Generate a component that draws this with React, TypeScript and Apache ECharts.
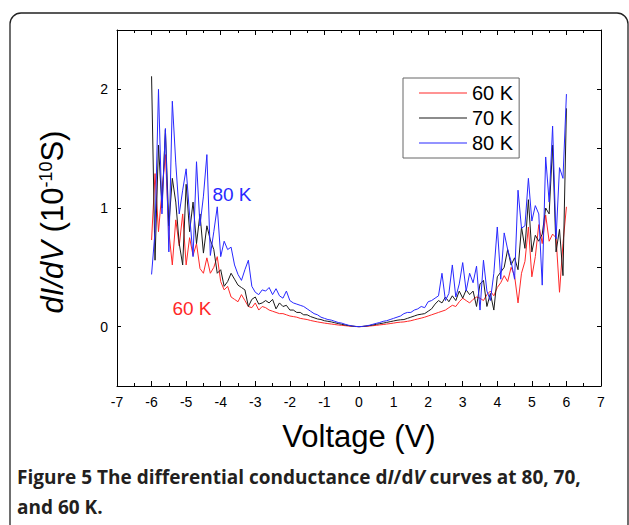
import React, { useEffect, useRef } from "react";
import * as echarts from "echarts";

const voltage = [
  -6.0, -5.9, -5.8, -5.7, -5.6, -5.5, -5.4, -5.3, -5.2, -5.1,
  -5.0, -4.9, -4.8, -4.7, -4.6, -4.5, -4.4, -4.3, -4.2, -4.1,
  -4.0, -3.9, -3.8, -3.7, -3.6, -3.5, -3.4, -3.3, -3.2, -3.1,
  -3.0, -2.9, -2.8, -2.7, -2.6, -2.5, -2.4, -2.3, -2.2, -2.1,
  -2.0, -1.9, -1.8, -1.7, -1.6, -1.5, -1.4, -1.3, -1.2, -1.1,
  -1.0, -0.9, -0.8, -0.7, -0.6, -0.5, -0.4, -0.3, -0.2, -0.1,
  0.0, 0.1, 0.2, 0.3, 0.4, 0.5, 0.6, 0.7, 0.8, 0.9,
  1.0, 1.1, 1.2, 1.3, 1.4, 1.5, 1.6, 1.7, 1.8, 1.9,
  2.0, 2.1, 2.2, 2.3, 2.4, 2.5, 2.6, 2.7, 2.8, 2.9,
  3.0, 3.1, 3.2, 3.3, 3.4, 3.5, 3.6, 3.7, 3.8, 3.9,
  4.0, 4.1, 4.2, 4.3, 4.4, 4.5, 4.6, 4.7, 4.8, 4.9,
  5.0, 5.1, 5.2, 5.3, 5.4, 5.5, 5.6, 5.7, 5.8, 5.9,
  6.0,
];

const g60K = [
  0.73, 1.29, 0.80, 1.14, 1.45, 0.80, 0.52, 0.90, 0.68, 0.95,
  0.52, 0.75, 0.60, 0.70, 0.49, 0.45, 0.58, 0.45, 0.50, 0.59,
  0.38, 0.31, 0.34, 0.25, 0.23, 0.21, 0.27, 0.22, 0.17, 0.16,
  0.20, 0.14, 0.17, 0.16, 0.14, 0.13, 0.12, 0.11, 0.11, 0.10,
  0.09, 0.085, 0.08, 0.07, 0.065, 0.06, 0.052, 0.046, 0.04, 0.035,
  0.03, 0.026, 0.022, 0.018, 0.014, 0.011, 0.008, 0.005, 0.003, 0.001,
  0, 0.001, 0.003, 0.005, 0.008, 0.011, 0.015, 0.018, 0.022, 0.026,
  0.03, 0.035, 0.038, 0.04, 0.045, 0.05, 0.058, 0.065, 0.072, 0.08,
  0.09, 0.10, 0.11, 0.12, 0.13, 0.14, 0.16, 0.18, 0.17, 0.21,
  0.24, 0.22, 0.20, 0.23, 0.25, 0.24, 0.22, 0.27, 0.30, 0.26,
  0.33, 0.37, 0.43, 0.38, 0.50, 0.43, 0.20, 0.45, 0.55, 0.84,
  0.42, 0.59, 0.86, 0.70, 0.94, 0.72, 0.78, 0.75, 0.29, 0.70,
  1.01,
];

const g70K = [
  2.11, 0.56, 1.53, 1.00, 1.66, 0.85, 1.25, 1.05, 0.70, 0.52,
  1.20, 0.80, 1.05, 0.70, 0.95, 0.62, 0.85, 0.73, 0.65, 0.45,
  0.48, 0.34, 0.38, 0.45, 0.40, 0.35, 0.33, 0.31, 0.17, 0.23,
  0.25, 0.19, 0.20, 0.22, 0.20, 0.23, 0.15, 0.20, 0.17, 0.18,
  0.14, 0.14, 0.12, 0.12, 0.10, 0.10, 0.085, 0.075, 0.065, 0.06,
  0.05, 0.045, 0.04, 0.033, 0.026, 0.02, 0.014, 0.009, 0.005, 0.002,
  0, 0.002, 0.005, 0.009, 0.014, 0.02, 0.025, 0.03, 0.036, 0.042,
  0.048, 0.054, 0.058, 0.06, 0.07, 0.08, 0.09, 0.10, 0.105, 0.11,
  0.13, 0.15, 0.19, 0.22, 0.20, 0.25, 0.21, 0.26, 0.22, 0.30,
  0.24, 0.31, 0.27, 0.30, 0.17, 0.36, 0.39, 0.17, 0.28, 0.14,
  0.42, 0.46, 0.50, 0.65, 0.52, 0.58, 0.48, 0.84, 0.66, 1.07,
  0.63, 0.77, 0.72, 0.78, 1.00, 0.95, 1.53, 0.63, 0.82, 0.43,
  1.84,
];

const g80K = [
  0.44, 0.80, 2.00, 0.95, 1.67, 0.63, 1.90, 1.38, 0.95, 1.15,
  1.33, 0.94, 0.59, 1.39, 0.85, 1.10, 1.45, 0.60, 0.80, 1.01,
  0.59, 0.72, 0.65, 0.67, 0.52, 0.44, 0.39, 0.48, 0.56, 0.34,
  0.29, 0.27, 0.31, 0.30, 0.33, 0.27, 0.32, 0.26, 0.24, 0.30,
  0.22, 0.20, 0.19, 0.18, 0.17, 0.15, 0.13, 0.11, 0.10, 0.08,
  0.07, 0.06, 0.055, 0.045, 0.035, 0.03, 0.02, 0.012, 0.006, 0.002,
  0, 0.002, 0.006, 0.012, 0.02, 0.028, 0.035, 0.045, 0.05, 0.06,
  0.07, 0.08, 0.09, 0.11, 0.12, 0.12, 0.14, 0.15, 0.17, 0.16,
  0.21, 0.22, 0.24, 0.26, 0.45, 0.22, 0.28, 0.52, 0.25, 0.36,
  0.54, 0.30, 0.45, 0.37, 0.51, 0.14, 0.56, 0.30, 0.22, 0.45,
  0.84, 0.40, 0.79, 0.65, 0.55, 0.40, 1.15, 0.83, 0.85, 1.25,
  0.89, 1.02, 0.95, 0.35, 1.43, 1.05, 1.69, 0.74, 1.34, 1.25,
  1.96,
];

const seriesNames = ["60 K", "70 K", "80 K"];
const seriesValues = [g60K, g70K, g80K];
const seriesColors = ["#ff2828", "#1a1a1a", "#2828ff"];

const FONT = "'Liberation Sans', Arial, sans-serif";
const CAPTION_FONT = "'Open Sans', 'Noto Sans', sans-serif";

export default function App() {
  const ref = useRef<HTMLDivElement>(null);

  useEffect(() => {
    const chart = echarts.init(ref.current!, null, { renderer: "svg" });

    const axisLine = { show: true, onZero: false, lineStyle: { color: "#000", width: 1 } };
    const xTick = { show: true, inside: true, length: 5, lineStyle: { color: "#000", width: 1 } };
    const xMinor = { show: true, splitNumber: 2, length: 3, lineStyle: { color: "#000", width: 1 } };
    const yTick = { show: true, inside: true, length: 4, lineStyle: { color: "#000", width: 1 } };
    const intLabel = (v: number) => (Math.abs(v - Math.round(v)) < 1e-6 ? String(Math.round(v)) : "");

    chart.setOption({
      animation: false,
      backgroundColor: "#ffffff",
      grid: { left: 117, top: 30, width: 484, height: 356 },
      xAxis: [
        {
          type: "value",
          min: -7,
          max: 7,
          interval: 1,
          position: "bottom",
          axisLine,
          axisTick: xTick,
          minorTick: xMinor,
          splitLine: { show: false },
          axisLabel: { fontSize: 14, color: "#000", margin: 9, fontFamily: FONT },
          name: "Voltage (V)",
          nameLocation: "middle",
          nameGap: 35,
          nameTextStyle: { fontSize: 31, color: "#000", fontFamily: FONT },
        },
        {
          type: "value",
          min: -7,
          max: 7,
          interval: 1,
          position: "top",
          axisLine,
          axisTick: xTick,
          minorTick: xMinor,
          splitLine: { show: false },
          axisLabel: { show: false },
        },
      ],
      yAxis: [
        {
          type: "value",
          min: -0.5,
          max: 2.5,
          interval: 0.5,
          position: "left",
          axisLine,
          axisTick: yTick,
          splitLine: { show: false },
          axisLabel: { fontSize: 14, color: "#000", margin: 9, fontFamily: FONT, formatter: intLabel },
        },
        {
          type: "value",
          min: -0.5,
          max: 2.5,
          interval: 0.5,
          position: "right",
          axisLine,
          axisTick: yTick,
          splitLine: { show: false },
          axisLabel: { show: false },
        },
      ],
      legend: {
        orient: "vertical",
        left: 403,
        top: 78,
        icon: "rect",
        itemWidth: 48,
        itemHeight: 1,
        itemGap: 5,
        padding: [5, 6, 5, 16],
        borderColor: "#666",
        borderWidth: 1,
        textStyle: { fontSize: 20, color: "#000", fontFamily: FONT },
        data: seriesNames,
      },
      series: seriesNames.map((name, k) => ({
        name,
        type: "line",
        xAxisIndex: 0,
        yAxisIndex: 0,
        symbol: "none",
        showSymbol: false,
        color: seriesColors[k],
        itemStyle: { color: seriesColors[k] },
        lineStyle: { width: 1, color: seriesColors[k] },
        data: voltage.map((v, i) => [v, seriesValues[k][i]]),
      })),
      graphic: [
        {
          type: "rect",
          silent: true,
          z: -10,
          shape: { x: 10, y: 13, width: 618, height: 522, r: 11 },
          style: { fill: "none", stroke: "#222", lineWidth: 1.3 },
        },
        {
          type: "text",
          x: 52,
          y: 222,
          rotation: Math.PI / 2,
          style: {
            text: "{i|dI/dV} (10{s|-10}S)",
            fontSize: 31,
            fontFamily: FONT,
            fill: "#000",
            align: "center",
            verticalAlign: "middle",
            rich: {
              i: { fontStyle: "italic", fontSize: 31, fontFamily: FONT, fill: "#000" },
              s: { fontSize: 18, fontFamily: FONT, fill: "#000", verticalAlign: "top" },
            },
          },
        },
        {
          type: "text",
          x: 232,
          y: 194,
          style: { text: "80 K", fontSize: 19, fontFamily: FONT, fill: "#2828ff", align: "center", verticalAlign: "middle" },
        },
        {
          type: "text",
          x: 192,
          y: 308,
          style: { text: "60 K", fontSize: 19, fontFamily: FONT, fill: "#ff2828", align: "center", verticalAlign: "middle" },
        },
        {
          type: "text",
          x: 17,
          y: 462,
          style: {
            text: "Figure 5 The differential conductance d{i|I}/d{i|V} curves at 80, 70,\nand 60 K.",
            fontSize: 19,
            fontWeight: "bold",
            fontFamily: CAPTION_FONT,
            fill: "#231f20",
            lineHeight: 30,
            align: "left",
            verticalAlign: "top",
            rich: {
              i: {
                fontSize: 19,
                fontWeight: "bold",
                fontStyle: "italic",
                fontFamily: CAPTION_FONT,
                fill: "#231f20",
                lineHeight: 30,
              },
            },
          },
        },
      ],
    });

    return () => chart.dispose();
  }, []);

  return (
    <div
      ref={ref}
      style={{ position: "fixed", left: 0, top: 0, width: 629, height: 525, background: "#fff" }}
    />
  );
}
